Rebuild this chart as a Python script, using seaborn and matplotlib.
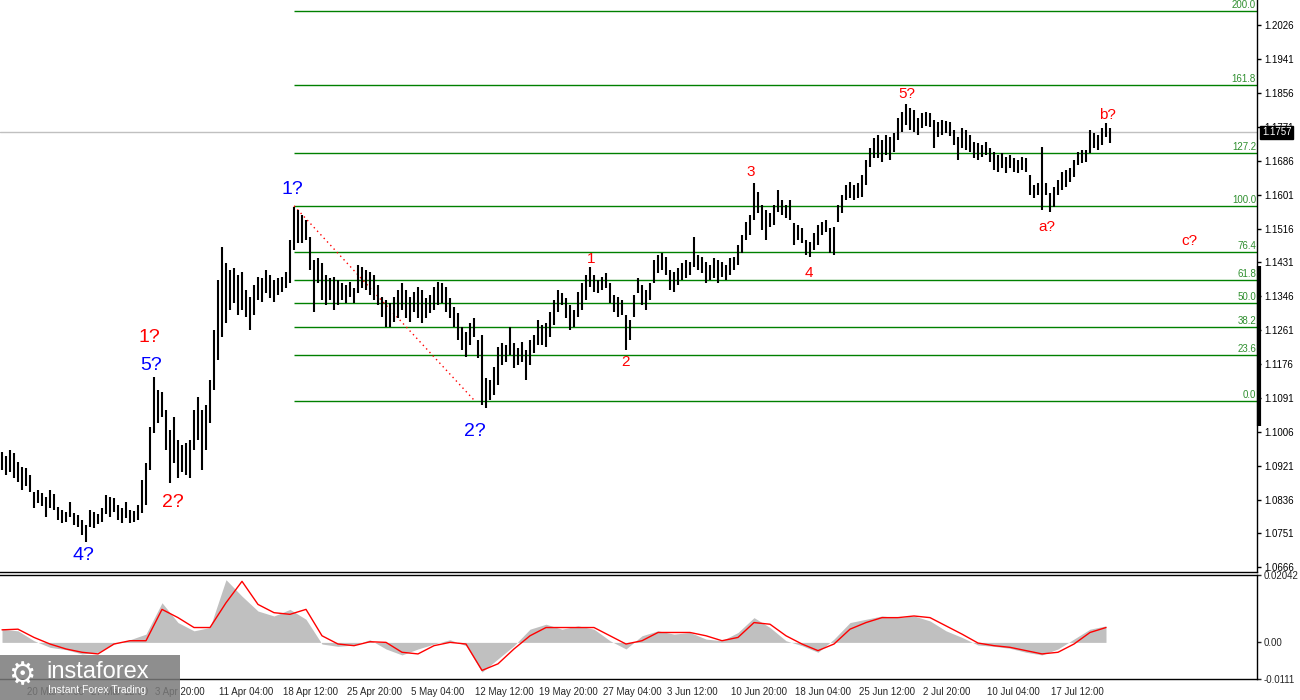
import numpy as np
import pandas as pd
import seaborn as sns
import matplotlib.pyplot as plt
import matplotlib.transforms as mtransforms
from matplotlib.patches import Rectangle

# bar highs / lows, in pips above 1.0000 (one line per bar)
highs_pips = [
    955, 945, 960, 953, 930, 918, 915, 898, 855, 860,
    852, 842, 860, 850, 817, 810, 805, 830, 802, 797,
    785, 772, 810, 805, 800, 815, 847, 842, 840, 822,
    815, 830, 810, 807, 822, 885, 928, 1018, 1143, 1111,
    1106, 1061, 1010, 1043, 985, 973, 978, 985, 1061, 1093,
    1061, 1073, 1136, 1261, 1387, 1470, 1430, 1412, 1417, 1399,
    1407, 1362, 1344, 1374, 1394, 1392, 1412, 1399, 1387, 1392,
    1394, 1407, 1487, 1570, 1563, 1550, 1537, 1495, 1437, 1442,
    1430, 1399, 1392, 1394, 1387, 1379, 1374, 1382, 1367, 1425,
    1420, 1412, 1407, 1399, 1374, 1344, 1337, 1329, 1344, 1362,
    1379, 1362, 1344, 1357, 1369, 1362, 1342, 1349, 1369, 1382,
    1379, 1369, 1342, 1319, 1304, 1269, 1256, 1279, 1292, 1236,
    1249, 1141, 1136, 1169, 1219, 1229, 1224, 1269, 1229, 1216,
    1231, 1211, 1236, 1249, 1287, 1274, 1279, 1307, 1337, 1362,
    1354, 1342, 1324, 1312, 1357, 1379, 1399, 1419, 1399, 1387,
    1394, 1404, 1379, 1349, 1344, 1337, 1299, 1287, 1349, 1392,
    1374, 1362, 1379, 1437, 1450, 1455, 1445, 1412, 1407, 1417,
    1430, 1437, 1432, 1495, 1450, 1445, 1432, 1425, 1442, 1437,
    1432, 1425, 1442, 1445, 1475, 1500, 1532, 1550, 1630, 1608,
    1575, 1563, 1555, 1575, 1613, 1588, 1575, 1588, 1530, 1525,
    1517, 1487, 1482, 1505, 1525, 1532, 1537, 1517, 1520, 1575,
    1600, 1625, 1633, 1625, 1630, 1650, 1688, 1718, 1743, 1751,
    1738, 1751, 1746, 1756, 1793, 1808, 1829, 1818, 1813, 1793,
    1806, 1808, 1806, 1788, 1783, 1788, 1786, 1783, 1763, 1746,
    1768, 1763, 1751, 1733, 1731, 1726, 1733, 1718, 1708, 1700,
    1705, 1695, 1700, 1693, 1688, 1695, 1693, 1650, 1625, 1630,
    1721, 1630, 1605, 1620, 1638, 1658, 1663, 1668, 1688, 1708,
    1713, 1713, 1763, 1756, 1751, 1768, 1781, 1768,
]
lows_pips = [
    910, 898, 905, 890, 880, 860, 870, 855, 815, 827,
    820, 792, 815, 810, 785, 777, 780, 792, 772, 767,
    747, 730, 767, 765, 775, 780, 800, 792, 805, 785,
    777, 790, 777, 780, 785, 802, 822, 910, 1003, 1028,
    1043, 960, 878, 928, 890, 905, 898, 890, 960, 985,
    910, 960, 1028, 1111, 1186, 1244, 1279, 1312, 1329, 1299,
    1312, 1294, 1262, 1299, 1337, 1332, 1354, 1342, 1332, 1349,
    1357, 1367, 1379, 1462, 1480, 1480, 1487, 1412, 1307, 1379,
    1337, 1324, 1337, 1312, 1324, 1337, 1329, 1344, 1329, 1354,
    1367, 1362, 1349, 1337, 1324, 1294, 1269, 1269, 1282, 1292,
    1312, 1292, 1282, 1307, 1292, 1279, 1292, 1304, 1312, 1324,
    1329, 1307, 1292, 1269, 1236, 1211, 1194, 1224, 1244, 1191,
    1073, 1066, 1086, 1098, 1124, 1174, 1181, 1199, 1166, 1174,
    1181, 1136, 1174, 1204, 1224, 1224, 1219, 1244, 1274, 1307,
    1324, 1292, 1262, 1269, 1294, 1312, 1337, 1369, 1357, 1354,
    1362, 1367, 1329, 1307, 1294, 1299, 1211, 1236, 1294, 1354,
    1324, 1312, 1337, 1379, 1404, 1412, 1399, 1362, 1357, 1374,
    1387, 1392, 1399, 1419, 1412, 1404, 1379, 1387, 1392, 1379,
    1394, 1387, 1399, 1412, 1425, 1455, 1487, 1500, 1537, 1555,
    1512, 1487, 1520, 1525, 1557, 1550, 1542, 1537, 1475, 1487,
    1480, 1450, 1445, 1462, 1475, 1500, 1507, 1455, 1450, 1532,
    1555, 1588, 1593, 1588, 1593, 1595, 1625, 1670, 1693, 1693,
    1683, 1700, 1688, 1708, 1738, 1758, 1776, 1763, 1758, 1751,
    1768, 1773, 1771, 1718, 1746, 1751, 1756, 1748, 1726, 1688,
    1718, 1713, 1708, 1693, 1688, 1695, 1700, 1683, 1663, 1658,
    1668, 1655, 1668, 1658, 1655, 1663, 1658, 1600, 1593, 1600,
    1563, 1600, 1558, 1570, 1600, 1613, 1620, 1633, 1645, 1675,
    1680, 1683, 1706, 1718, 1713, 1726, 1746, 1731,
]

# MACD histogram and signal, sampled every 4 bars
macd_step = 4
macd_hist = [
    0.0040, 0.0035, 0.0005, -0.0015, -0.0022, -0.0035, -0.0030, -0.0005, 0.0008, 0.0025,
    0.0120, 0.0060, 0.0035, 0.0045, 0.0190, 0.0140, 0.0095, 0.0080, 0.0100, 0.0070,
    -0.0005, -0.0012, -0.0008, 0.0008, -0.0020, -0.0038, -0.0020, -0.0005, 0.0008, -0.0010,
    -0.0090, -0.0050, -0.0010, 0.0040, 0.0055, 0.0040, 0.0050, 0.0040, 0.0005, -0.0020,
    0.0020, 0.0035, 0.0025, 0.0030, 0.0010, 0.0005, 0.0030, 0.0075, 0.0045, 0.0005,
    -0.0010, -0.0030, 0.0010, 0.0060, 0.0070, 0.0080, 0.0075, 0.0080, 0.0065, 0.0035,
    0.0015, -0.0008, -0.0012, -0.0018, -0.0030, -0.0038, -0.0020, 0.0010, 0.0040, 0.0050,
]
macd_signal = [
    0.0038, 0.0040, 0.0015, -0.0005, -0.0020, -0.0030, -0.0035, -0.0005, 0.0005, 0.0005,
    0.0100, 0.0075, 0.0045, 0.0045, 0.0120, 0.0185, 0.0115, 0.0090, 0.0085, 0.0100,
    0.0020, -0.0005, -0.0010, 0.0002, 0.0000, -0.0030, -0.0035, -0.0010, 0.0000, -0.0005,
    -0.0085, -0.0065, -0.0020, 0.0020, 0.0045, 0.0045, 0.0045, 0.0045, 0.0020, -0.0005,
    0.0005, 0.0030, 0.0030, 0.0030, 0.0020, 0.0005, 0.0015, 0.0060, 0.0055, 0.0020,
    -0.0005, -0.0025, -0.0005, 0.0040, 0.0060, 0.0075, 0.0075, 0.0080, 0.0075, 0.0050,
    0.0025, -0.0002, -0.0010, -0.0015, -0.0025, -0.0035, -0.0030, -0.0005, 0.0030, 0.0045,
]

# fibonacci grid
fib_ratios = [0.0, 23.6, 38.2, 50.0, 61.8, 76.4, 100.0, 127.2, 161.8, 200.0]
fib_low = 1.1083
fib_high = 1.1573
fib_start_bar = 73
fib_end_bar = 118.25
last_price = 1.1757

price_ticks = [1.0666, 1.0751, 1.0836, 1.0921, 1.1006, 1.1091, 1.1176, 1.1261, 1.1346,
               1.1431, 1.1516, 1.1601, 1.1686, 1.1771, 1.1856, 1.1941, 1.2026]
date_labels = ["20 Mar 04:00", "27 Mar 12:00", "3 Apr 20:00", "11 Apr 04:00", "18 Apr 12:00",
               "25 Apr 20:00", "5 May 04:00", "12 May 12:00", "19 May 20:00", "27 May 04:00",
               "3 Jun 12:00", "10 Jun 20:00", "18 Jun 04:00", "25 Jun 12:00", "2 Jul 20:00",
               "10 Jul 04:00", "17 Jul 12:00"]
macd_ticks = [-0.0111, 0.0, 0.02042]
macd_tick_labels = ["-0.0111", "0.00", "0.02042"]

# wave count: text, bar, anchor, colour, size, dx, dy (pixels)
wave_labels = [
    ("4?", 21, "low", "blue", 14, -3, -14),
    ("2?", 42, "low", "red", 14, 3, -20),
    ("5?", 38, "high", "blue", 14, -3, 12),
    ("1?", 38, "high", "red", 14, -5, 40),
    ("1?", 73, "high", "blue", 14, -2, 18),
    ("2?", 121, "low", "blue", 14, -11, -24),
    ("1", 147, "high", "red", 11, 1, 8),
    ("2", 156, "low", "red", 11, -1, -12),
    ("3", 188, "high", "red", 11, -3, 11),
    ("4", 202, "low", "red", 11, -1, -16),
    ("5?", 226, "high", "red", 11, 1, 10),
    ("a?", 262, "low", "red", 11, -3, -15),
    ("b?", 276, "high", "red", 11, 1, 8),
]
c_label = ("c?", 296.75, 1.1485)

highs = [1 + v / 10000 for v in highs_pips]
lows = [1 + v / 10000 for v in lows_pips]
bars = pd.DataFrame({"bar": np.arange(len(highs)), "high": highs, "low": lows})
macd = pd.DataFrame({"bar": np.arange(len(macd_hist)) * macd_step,
                     "hist": macd_hist, "signal": macd_signal})

sns.set_style("white")
plt.rcParams["font.family"] = ["Liberation Sans", "DejaVu Sans"]

fig = plt.figure(figsize=(13, 7), dpi=100)
ax = fig.add_axes([0, 1 - 572 / 700, 1257 / 1300, 572 / 700])
ax2 = fig.add_axes([0, 21 / 700, 1257 / 1300, 104 / 700])

xmax = 313.75

# price panel
ax.axhline(last_price, color="#c0c0c0", lw=1, zorder=0)
for r in fib_ratios:
    level = fib_low + (fib_high - fib_low) * r / 100
    ax.hlines(level, fib_start_bar, xmax, color="#008000", lw=1, zorder=1)
    ax.annotate("{:.1f}".format(r), xy=(1.0, level), xycoords=("axes fraction", "data"),
                xytext=(-1, 1), textcoords="offset pixels", ha="right", va="bottom",
                fontsize=7, color="#2f8f2f")
ax.plot([fib_start_bar, fib_end_bar], [fib_high, fib_low], color="red", lw=1,
        ls=(0, (1, 2.5)), zorder=2)
ax.vlines(bars["bar"], bars["low"], bars["high"], color="black", lw=1.5, zorder=3)

for text, b, anchor, color, size, dx, dy in wave_labels:
    yv = bars.loc[b, anchor]
    ax.annotate(text, xy=(b, yv), xytext=(dx, dy), textcoords="offset pixels",
                ha="center", va="center", color=color, fontsize=size)
ax.text(c_label[1], c_label[2], c_label[0], color="red", fontsize=11, ha="center", va="center")

ax.set_xlim(-0.5, xmax)
ax.set_ylim(1.06543, 1.20894)
ax.yaxis.tick_right()
ax.set_yticks(price_ticks)
ax.set_yticklabels(["{:.4f}".format(p) for p in price_ticks])
ax.tick_params(axis="y", direction="out", length=3, width=1, labelsize=7, pad=2, colors="black")
ax.tick_params(axis="x", bottom=False, labelbottom=False)
for s in ["top", "left"]:
    ax.spines[s].set_visible(False)
for s in ["right", "bottom"]:
    ax.spines[s].set_color("black")
    ax.spines[s].set_linewidth(1)

trans = mtransforms.blended_transform_factory(ax.transAxes, ax.transData)
ax.plot([1.0015, 1.0015], [1.1021, 1.1422], transform=trans, color="black", lw=3,
        clip_on=False, solid_capstyle="butt")

ax.annotate("{:.4f}".format(last_price), xy=(1.0, last_price), xycoords=("axes fraction", "data"),
            xytext=(5, 0), textcoords="offset pixels", ha="left", va="center",
            fontsize=7, color="white", zorder=10, annotation_clip=False,
            bbox=dict(boxstyle="square,pad=0.2", fc="black", ec="black"))

# MACD panel
ax2.fill_between(macd["bar"], 0, macd["hist"], color="#c0c0c0", lw=0)
sns.lineplot(data=macd, x="bar", y="signal", ax=ax2, color="red", lw=1)
ax2.set_xlim(-0.5, xmax)
ax2.set_ylim(-0.0111, 0.02042)
ax2.set_xlabel("")
ax2.set_ylabel("")
ax2.yaxis.tick_right()
ax2.set_yticks(macd_ticks)
ax2.set_yticklabels(macd_tick_labels)
ax2.tick_params(axis="y", direction="out", length=3, width=1, labelsize=7, pad=2)
ax2.set_xticks(6.25 + 16 * np.arange(len(date_labels)))
ax2.set_xticklabels(date_labels)
for lbl in ax2.get_xticklabels():
    lbl.set_ha("left")
ax2.tick_params(axis="x", direction="out", length=3, width=1, labelsize=7, pad=3)
ax2.spines["left"].set_visible(False)
for s in ["top", "right", "bottom"]:
    ax2.spines[s].set_color("black")
    ax2.spines[s].set_linewidth(1)

# watermark
fig.add_artist(Rectangle((0, 0), 180 / 1300, 45 / 700, transform=fig.transFigure,
                         fc="#7a7a7a", ec="none", alpha=0.85, zorder=20))
fig.text(22 / 1300, 1 - 676 / 700, "\u2699", color="white", fontsize=22, ha="center",
         va="center", zorder=21, family="DejaVu Sans")
fig.text(46 / 1300, 1 - 672 / 700, "instaforex", color="white", fontsize=17, ha="left",
         va="center", zorder=21)
fig.text(48 / 1300, 1 - 690 / 700, "Instant Forex Trading", color="white", fontsize=7.5,
         ha="left", va="center", zorder=21)

fig.savefig("out.png", dpi=100)
